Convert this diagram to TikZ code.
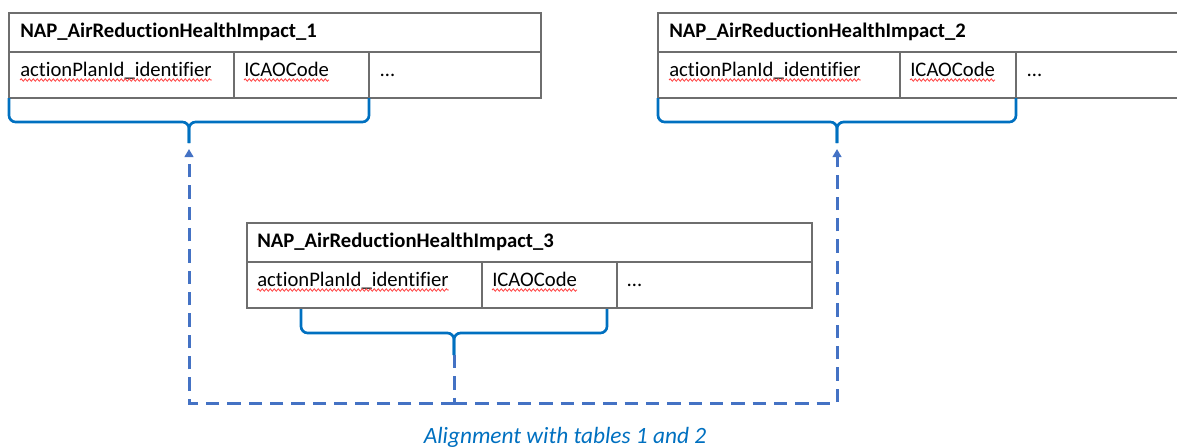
\documentclass[tikz,border=0pt]{standalone}
\usepackage{fontspec}
\setmainfont{Carlito}[Ligatures=NoCommon]
\usetikzlibrary{arrows.meta,decorations.pathmorphing}
\definecolor{tabgray}{HTML}{6E6E6E}
\definecolor{bracebl}{HTML}{0070C0}
\definecolor{linkbl}{HTML}{4472C4}
\tikzset{
  hdr/.style={draw=tabgray, line width=1pt, anchor=north west, inner sep=0pt, outer sep=0pt, minimum width=#1, minimum height=29.25pt},
  cell/.style={draw=tabgray, line width=1pt, anchor=north west, inner sep=0pt, outer sep=0pt, minimum width=#1, minimum height=34.5pt},
  lbl/.style={anchor=base west, inner sep=0pt, font=\fontsize{15.5pt}{18pt}\selectfont},
  hlbl/.style={lbl, font=\fontsize{15.5pt}{18pt}\selectfont\bfseries},
  squig/.style={draw=red!75, line width=0.6pt, decorate, decoration={snake, amplitude=0.9pt, segment length=3pt}},
  brace/.style={draw=bracebl, line width=2pt, rounded corners=5pt},
  link/.style={draw=linkbl, line width=2.25pt, dash pattern=on 10pt off 6pt},
  tip/.style={-{Triangle[length=6pt,width=6.5pt]}},
  caption/.style={text=bracebl, font=\fontsize{17.5pt}{20pt}\selectfont\itshape}
}
\begin{document}
\begin{tikzpicture}[x=0.75pt, y=-0.75pt]
  \useasboundingbox (0,0) rectangle (1177,447);
  \clip (0,0) rectangle (1177,447);
  % table 1
  \node[hdr=399pt] (t1h) at (9,13) {};
  \node[cell=168.75pt] (t1a) at (t1h.south west) {};
  \node[cell=101.25pt] (t1b) at (t1a.north east) {};
  \node[cell=129pt] (t1c) at (t1b.north east) {};
  \node[hlbl] (t1hx) at ([shift={(11,-15)}]t1h.south west) {NAP\_AirReductionHealthImpact\_1};
  \node[lbl] (t1ax) at ([shift={(11,-22)}]t1a.south west) {actionPlanId\_identifier};
  \node[lbl] (t1bx) at ([shift={(10,-22)}]t1b.south west) {ICAOCode};
  \node[lbl] (t1cx) at ([shift={(11,-22)}]t1c.south west) {…};
  % table 2
  \node[hdr=399pt] (t2h) at (658,13) {};
  \node[cell=181.5pt] (t2a) at (t2h.south west) {};
  \node[cell=87pt] (t2b) at (t2a.north east) {};
  \node[cell=130.5pt] (t2c) at (t2b.north east) {};
  \node[hlbl] (t2hx) at ([shift={(11,-15)}]t2h.south west) {NAP\_AirReductionHealthImpact\_2};
  \node[lbl] (t2ax) at ([shift={(11,-22)}]t2a.south west) {actionPlanId\_identifier};
  \node[lbl] (t2bx) at ([shift={(10,-22)}]t2b.south west) {ICAOCode};
  \node[lbl] (t2cx) at ([shift={(11,-22)}]t2c.south west) {…};
  % table 3
  \node[hdr=423.75pt] (t3h) at (247,223) {};
  \node[cell=176.25pt] (t3a) at (t3h.south west) {};
  \node[cell=101.25pt] (t3b) at (t3a.north east) {};
  \node[cell=146.25pt] (t3c) at (t3b.north east) {};
  \node[hlbl] (t3hx) at ([shift={(10,-15)}]t3h.south west) {NAP\_AirReductionHealthImpact\_3};
  \node[lbl] (t3ax) at ([shift={(10,-22)}]t3a.south west) {actionPlanId\_identifier};
  \node[lbl] (t3bx) at ([shift={(10,-22)}]t3b.south west) {ICAOCode};
  \node[lbl] (t3cx) at ([shift={(10,-22)}]t3c.south west) {…};
  % spelling marks
  \draw[squig] ([yshift=-3pt]t1ax.base west) -- ([yshift=-3pt]t1ax.base east);
  \draw[squig] ([yshift=-3pt]t1bx.base west) -- ([yshift=-3pt]t1bx.base east);
  \draw[squig] ([yshift=-3pt]t2ax.base west) -- ([yshift=-3pt]t2ax.base east);
  \draw[squig] ([yshift=-3pt]t2bx.base west) -- ([yshift=-3pt]t2bx.base east);
  \draw[squig] ([yshift=-3pt]t3ax.base west) -- ([yshift=-3pt]t3ax.base east);
  \draw[squig] ([yshift=-3pt]t3bx.base west) -- ([yshift=-3pt]t3bx.base east);
  % braces
  \coordinate (b1m) at (189,122);
  \coordinate (b1t) at (189,143);
  \coordinate (a1) at (189,149);
  \coordinate (b2m) at (837,122);
  \coordinate (b2t) at (837,143);
  \coordinate (a2) at (837,149);
  \coordinate (b3l) at (301,309);
  \coordinate (b3r) at (607,309);
  \coordinate (b3m) at (454,333);
  \coordinate (b3t) at (454,355);
  \coordinate (jn) at (454,403);
  \draw[brace] (t1a.south west) |- (b1m) -- (b1t);
  \draw[brace] (t1b.south east) |- (b1m) -- (b1t);
  \draw[brace] (t2a.south west) |- (b2m) -- (b2t);
  \draw[brace] (t2b.south east) |- (b2m) -- (b2t);
  \draw[brace] (b3l) |- (b3m) -- (b3t);
  \draw[brace] (b3r) |- (b3m) -- (b3t);
  % alignment links
  \draw[link] (b3t) -- (jn);
  \draw[link, tip] (jn) -| (a1);
  \draw[link, tip] (jn) -| (a2);
  \node[caption, anchor=base] (cap) at (565,443) {Alignment with tables 1 and 2};
\end{tikzpicture}
\end{document}
